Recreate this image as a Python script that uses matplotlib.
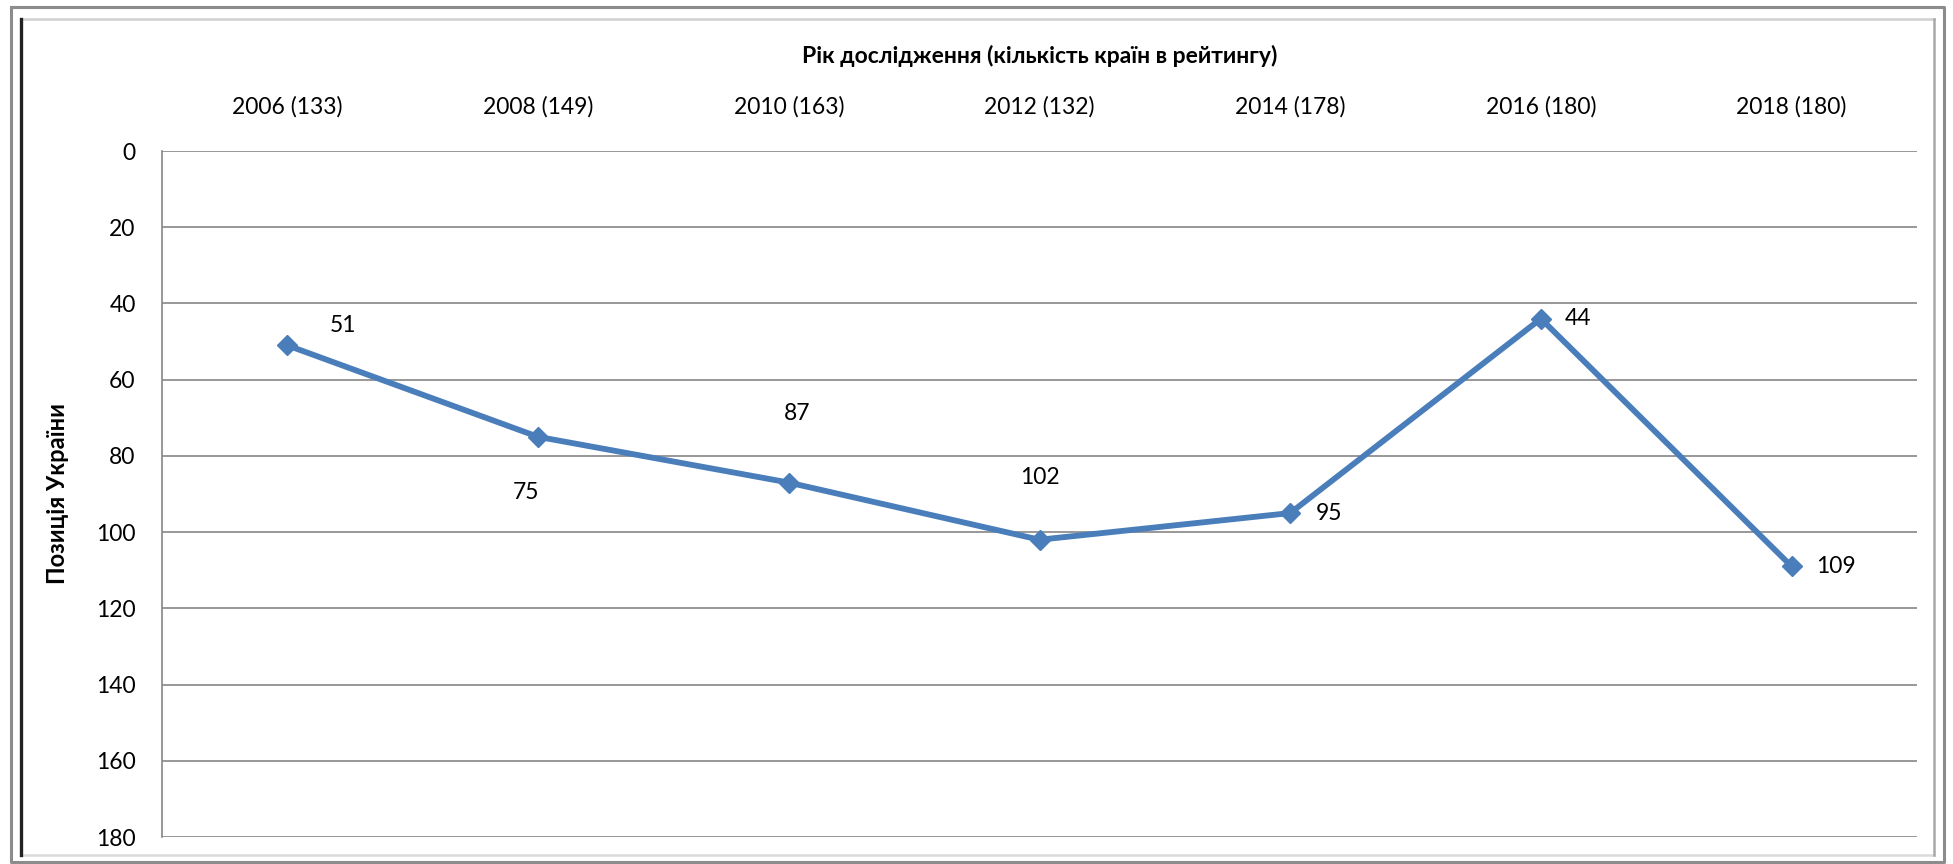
import matplotlib.pyplot as plt
from matplotlib.lines import Line2D
from matplotlib.ticker import MultipleLocator

# Data
categories = ["2006 (133)", "2008 (149)", "2010 (163)", "2012 (132)",
              "2014 (178)", "2016 (180)", "2018 (180)"]
positions = [51, 75, 87, 102, 95, 44, 109]
# label offsets in points (dx, dy), as placed in the reference
label_offsets = [(40, 14), (-9, -40), (6, 50), (0, 45), (28, 0), (27, 0), (32, 0)]

plt.rcParams["font.family"] = ["Lato", "DejaVu Sans"]

W, H = 1953, 864
fig = plt.figure(figsize=(W / 100, H / 100), dpi=100)
ax = fig.add_axes([162 / W, 1 - 837 / H, (1917 - 162) / W, (837 - 151) / H])

x = list(range(len(categories)))
ax.plot(x, positions, color="#4A7EBB", linewidth=4.2, marker="D",
        markersize=10, markerfacecolor="#4A7EBB", markeredgecolor="#4A7EBB",
        zorder=3)
for xi, v, (dx, dy) in zip(x, positions, label_offsets):
    ax.annotate(str(v), (xi, v), xytext=(dx, dy), textcoords="offset points",
                ha="center", va="center", fontsize=16.5, color="black")

ax.set_xlim(-0.5, len(categories) - 0.5)
ax.set_ylim(180, 0)
ax.yaxis.set_major_locator(MultipleLocator(20))
ax.set_xticks(x)
ax.set_xticklabels(categories)
ax.xaxis.tick_top()
ax.xaxis.set_label_position("top")
ax.tick_params(axis="x", length=0, pad=24, labelsize=16.5)
ax.tick_params(axis="y", length=0, pad=19, labelsize=16.5)
ax.set_xlabel("Рік дослідження (кількість країн в рейтингу)", fontsize=16.5,
              fontweight="bold", labelpad=24)
ax.set_ylabel("Позиція України", fontsize=17, fontweight="bold", labelpad=19)

ax.grid(axis="y", color="#868686", linewidth=1.2)
ax.set_axisbelow(True)
for side in ["top", "right", "bottom"]:
    ax.spines[side].set_visible(False)
ax.spines["left"].set_color("#868686")
ax.spines["left"].set_linewidth(1.2)


def frame_line(xs, ys, color, lw):
    fig.add_artist(Line2D([v / W for v in xs], [1 - v / H for v in ys],
                          transform=fig.transFigure, color=color, linewidth=lw))


# outer border
frame_line([10.5, 1944, 1944, 10.5, 10.5], [7, 7, 862, 862, 7], "#8C8C8C", 2.2)
# inner border
frame_line([21, 1934], [19, 19], "#D0D0D0", 1.8)
frame_line([21, 1934], [855, 855], "#DADADA", 1.8)
frame_line([1934, 1934], [19, 855], "#A8A8A8", 1.8)
frame_line([21, 21], [19, 855], "#222222", 2.4)

fig.savefig("out.png", dpi=100)
